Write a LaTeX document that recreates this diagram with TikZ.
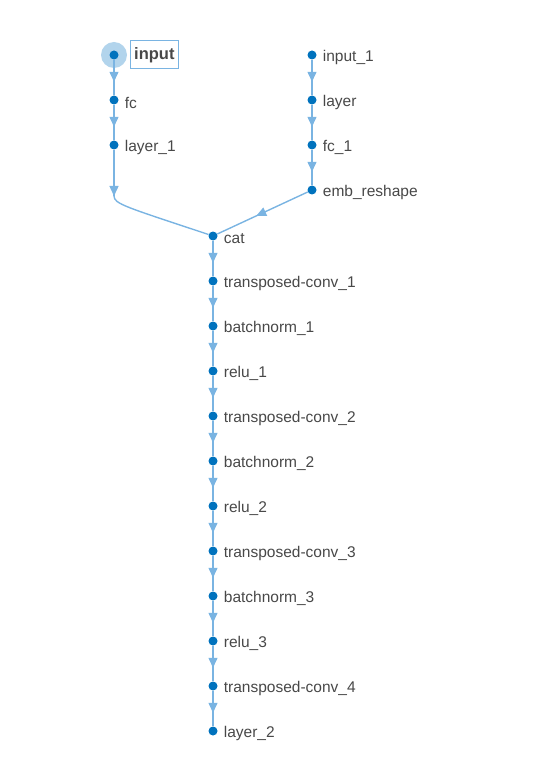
\documentclass[tikz,border=0pt]{standalone}
\usepackage{fontspec}
\setmainfont{Liberation Sans}
\usetikzlibrary{positioning,arrows.meta,decorations.markings,backgrounds}

\definecolor{dotblue}{RGB}{0,114,189}
\definecolor{edgeblue}{RGB}{122,180,226}
\definecolor{hiblue}{RGB}{178,212,236}
\definecolor{txtgray}{RGB}{72,72,72}

\tikzset{
  lyr/.style={circle, fill=dotblue, inner sep=0pt, minimum size=9pt},
  lbl/.style={text=txtgray, font=\fontsize{15.5}{18}\selectfont, inner sep=1pt, label distance=5pt, yshift=-2.5pt},
  inbox/.style={draw=edgeblue, line width=1pt, text=txtgray, font=\fontsize{16.5}{19}\selectfont\bfseries,
    inner xsep=4pt, minimum height=28pt, label distance=11pt},
  flow/.style={edgeblue, line width=1.4pt, postaction={decorate},
    decoration={markings, mark=at position #1 with {\arrow{Triangle[width=9pt,length=10pt]}}}},
  flow/.default=0.62,
}

\begin{document}
\begin{tikzpicture}[x=1pt, y=-1pt, node distance=45pt, on grid]
\useasboundingbox (0,0) rectangle (541,759);

% left branch
\node[lyr, label={[inbox]right:input}] (in) at (114,55) {};
\node[lyr, label={[lbl]right:fc}] (fc) [below=of in] {};
\node[lyr, label={[lbl]right:layer\_1}] (ly1) [below=of fc] {};

% right branch
\node[lyr, label={[lbl]right:input\_1}] (in1) at (312,55) {};
\node[lyr, label={[lbl]right:layer}] (ly) [below=of in1] {};
\node[lyr, label={[lbl]right:fc\_1}] (fc1) [below=of ly] {};
\node[lyr, label={[lbl]right:emb\_reshape}] (emb) [below=of fc1] {};

% main chain
\node[lyr, label={[lbl]right:cat}] (cat) at (213,236) {};
\node[lyr, label={[lbl]right:transposed-conv\_1}] (tc1) [below=of cat] {};
\node[lyr, label={[lbl]right:batchnorm\_1}] (bn1) [below=of tc1] {};
\node[lyr, label={[lbl]right:relu\_1}] (re1) [below=of bn1] {};
\node[lyr, label={[lbl]right:transposed-conv\_2}] (tc2) [below=of re1] {};
\node[lyr, label={[lbl]right:batchnorm\_2}] (bn2) [below=of tc2] {};
\node[lyr, label={[lbl]right:relu\_2}] (re2) [below=of bn2] {};
\node[lyr, label={[lbl]right:transposed-conv\_3}] (tc3) [below=of re2] {};
\node[lyr, label={[lbl]right:batchnorm\_3}] (bn3) [below=of tc3] {};
\node[lyr, label={[lbl]right:relu\_3}] (re3) [below=of bn3] {};
\node[lyr, label={[lbl]right:transposed-conv\_4}] (tc4) [below=of re3] {};
\node[lyr, label={[lbl]right:layer\_2}] (ly2) [below=of tc4] {};

\coordinate (lbend) at (114,196);

\begin{scope}[on background layer]
\fill[hiblue] (in) circle (13);
\foreach \a/\b in {in/fc, fc/ly1, in1/ly, ly/fc1, fc1/emb, cat/tc1, tc1/bn1, bn1/re1,
    re1/tc2, tc2/bn2, bn2/re2, re2/tc3, tc3/bn3, bn3/re3, re3/tc4, tc4/ly2}
  \draw[flow] (\a) -- (\b);
\draw[flow=1] (ly1) -- (lbend);
\draw[edgeblue, line width=1.4pt] (lbend) .. controls (114,204) and (126,207) .. (cat);
\draw[flow=0.57] (emb) -- (cat);
\end{scope}

\end{tikzpicture}
\end{document}
